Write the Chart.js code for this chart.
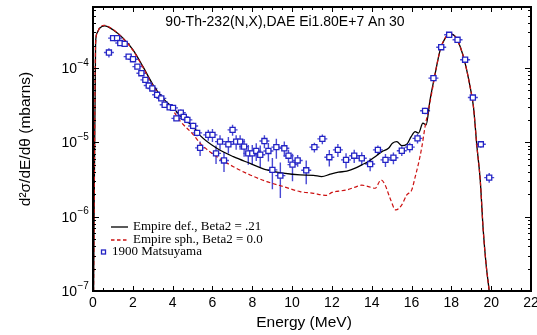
<!DOCTYPE html>
<html>
<head>
<meta charset="utf-8">
<script src="https://cdn.jsdelivr.net/npm/chart.js@4.4.1/dist/chart.umd.min.js"></script>
<style>
  html, body { margin: 0; padding: 0; background: #fff; }
  #wrap { width: 537px; height: 335px; }
</style>
</head>
<body>
<div id="wrap"><canvas id="chart"></canvas></div>
<script>
// tick labels
const xTickLabels = [0, 2, 4, 6, 8, 10, 12, 14, 16, 18, 20, 22];
const yDecades = [-7, -6, -5, -4];

// 1900 Matsuyama data (energy MeV, d2sigma, relative error)
const expE = [0.80, 1.01, 1.21, 1.37, 1.59, 1.79, 2.01, 2.23, 2.43, 2.63, 2.80, 2.98,
  3.22, 3.43, 3.60, 3.85, 4.02, 4.19, 4.41, 4.56, 4.74, 5.03, 5.23, 5.38, 5.79, 6.00,
  6.18, 6.38, 6.58, 6.80, 7.01, 7.19, 7.39, 7.59, 7.80, 8.00, 8.20, 8.40, 8.61, 8.81,
  9.01, 9.21, 9.41, 9.61, 9.82, 10.02, 10.28, 10.71, 11.12, 11.52, 11.87, 12.30, 12.71,
  13.12, 13.50, 13.92, 14.31, 14.69, 15.09, 15.51, 15.91, 16.30, 16.68, 17.10, 17.49,
  17.89, 18.31, 18.69, 19.08, 19.48, 19.90];
const expSigma = [1.61e-4, 2.52e-4, 2.52e-4, 2.16e-4, 2.11e-4, 1.42e-4, 1.31e-4, 1.04e-4,
  8.5e-5, 6.9e-5, 5.8e-5, 5.3e-5, 4.35e-5, 3.9e-5, 3.2e-5, 2.96e-5, 2.9e-5, 2.1e-5,
  2.5e-5, 2.2e-5, 2.0e-5, 1.66e-5, 1.34e-5, 8.4e-6, 1.26e-5, 1.26e-5, 7.1e-6, 1.02e-5,
  5.7e-6, 9.4e-6, 1.47e-5, 1.02e-5, 1.02e-5, 8.75e-6, 7.1e-6, 7.1e-6, 7.65e-6, 6.8e-6,
  1.04e-5, 7.65e-6, 4.25e-6, 8.6e-6, 3.56e-6, 8.3e-6, 6.6e-6, 5.0e-6, 5.7e-6, 4.2e-6,
  8.6e-6, 1.11e-5, 6.3e-6, 7.9e-6, 5.8e-6, 6.6e-6, 6.1e-6, 5.1e-6, 7.9e-6, 5.8e-6,
  6.2e-6, 7.7e-6, 8.6e-6, 1.13e-5, 2.65e-5, 7.3e-5, 1.9e-4, 2.79e-4, 2.39e-4, 1.29e-4,
  4.0e-5, 9.4e-6, 3.35e-6];
const expRelErr = [0.14, 0.05, 0.05, 0.05, 0.05, 0.05, 0.05, 0.05, 0.05, 0.05, 0.05, 0.05,
  0.06, 0.06, 0.06, 0.06, 0.07, 0.08, 0.1, 0.1, 0.1, 0.1, 0.1, 0.22, 0.17, 0.2,
  0.28, 0.22, 0.3, 0.25, 0.17, 0.22, 0.22, 0.27, 0.3, 0.3, 0.27, 0.33, 0.2, 0.28,
  0.45, 0.3, 0.5, 0.23, 0.2, 0.4, 0.18, 0.35, 0.15, 0.15, 0.25, 0.2, 0.23,
  0.2, 0.2, 0.2, 0.15, 0.2, 0.18, 0.15, 0.15, 0.15, 0.1, 0.06, 0.05,
  0.05, 0.05, 0.05, 0.06, 0.1, 0.15];

// Empire def., Beta2 = .21
const defE = [0.03, 0.13, 0.2, 0.33, 0.59, 1.0, 1.51, 2.01, 2.51, 3.02, 3.52, 4.02, 4.52,
  5.03, 5.4, 6.22, 7.05, 7.89, 8.73, 9.56, 10.4, 11.07, 11.49, 11.91, 12.33, 12.75, 13.17,
  13.5, 13.83, 14.17, 14.51, 14.84, 15.04, 15.26, 15.51, 15.76, 15.98, 16.18, 16.35, 16.57,
  16.73, 16.93, 17.19, 17.44, 17.69, 17.94, 18.19, 18.44, 18.69, 18.94, 19.11, 19.28, 19.45,
  19.6, 19.75, 19.9, 20.0];
const defSigma = [1.0e-7, 2.16e-4, 2.94e-4, 3.42e-4, 3.69e-4, 3.26e-4, 2.52e-4, 1.75e-4,
  1.04e-4, 5.9e-5, 3.9e-5, 2.9e-5, 2.1e-5, 1.63e-5, 1.22e-5, 8.3e-6, 6.4e-6, 5.2e-6,
  4.25e-6, 3.84e-6, 3.64e-6, 3.6e-6, 3.45e-6, 3.72e-6, 3.96e-6, 4.1e-6, 4.48e-6, 4.97e-6,
  5.5e-6, 6.4e-6, 7.5e-6, 8.3e-6, 9.7e-6, 1.02e-5, 9.0e-6, 9.4e-6, 1.19e-5, 1.39e-5,
  1.33e-5, 1.81e-5, 1.72e-5, 3.73e-5, 8.5e-5, 1.75e-4, 2.52e-4, 2.88e-4, 2.65e-4, 1.94e-4,
  1.16e-4, 5.6e-5, 3.0e-5, 9.0e-6, 3.1e-6, 6.6e-7, 2.2e-7, 1.0e-7, 5e-8];

// Empire sph., Beta2 = 0.0
const sphE = [0.03, 0.13, 0.2, 0.33, 0.55, 1.0, 1.51, 2.01, 2.51, 3.02, 3.52, 4.0, 4.4,
  5.0, 5.4, 6.22, 7.05, 7.89, 8.73, 9.56, 10.4, 11.07, 11.49, 11.74, 12.0, 12.33, 12.75,
  13.17, 13.5, 13.83, 14.17, 14.47, 14.67, 14.92, 15.21, 15.51, 15.76, 16.01, 16.18, 16.35,
  16.52, 16.68, 16.85, 17.05, 17.19, 17.44, 17.69, 17.94, 18.19, 18.44, 18.69, 18.94, 19.11,
  19.28, 19.45, 19.6, 19.75, 19.9, 20.0];
const sphSigma = [1.0e-7, 2.1e-4, 2.9e-4, 3.45e-4, 3.75e-4, 3.3e-4, 2.5e-4, 1.72e-4,
  1.02e-4, 5.7e-5, 3.7e-5, 2.7e-5, 1.9e-5, 1.3e-5, 9.6e-6, 6.4e-6, 4.7e-6, 3.64e-6,
  2.96e-6, 2.54e-6, 2.17e-6, 2.06e-6, 1.96e-6, 1.93e-6, 2.12e-6, 2.2e-6, 2.29e-6, 2.5e-6,
  2.65e-6, 2.54e-6, 2.41e-6, 3.12e-6, 2.68e-6, 1.77e-6, 1.23e-6, 1.44e-6, 1.96e-6, 2.29e-6,
  3.4e-6, 5.2e-6, 8.75e-6, 1.63e-5, 2.73e-5, 5.2e-5, 8.5e-5, 1.75e-4, 2.52e-4, 2.88e-4,
  2.65e-4, 1.94e-4, 1.16e-4, 5.6e-5, 3.0e-5, 9.0e-6, 3.1e-6, 6.6e-7, 2.2e-7, 1.0e-7, 5e-8];

const SANS = '"Liberation Sans", Arial, sans-serif';
const SERIF = '"Liberation Serif", "Times New Roman", serif';
const BLUE = '#2323c4';
const BLUE_BAR = '#4848d4';
const RED = '#cc1111';

function toXY(xs, ys) {
  return xs.map((x, i) => ({ x: x, y: ys[i] }));
}

const errorBars = {
  id: 'errorBars',
  beforeDatasetsDraw(chart) {
    const ctx = chart.ctx;
    const xs = chart.scales.x, ys = chart.scales.y;
    const a = chart.chartArea;
    ctx.save();
    ctx.beginPath();
    ctx.rect(a.left, a.top, a.right - a.left, a.bottom - a.top);
    ctx.clip();
    ctx.strokeStyle = BLUE_BAR;
    ctx.lineWidth = 1.4;
    for (let i = 0; i < expE.length; i++) {
      const px = xs.getPixelForValue(expE[i]);
      const py = ys.getPixelForValue(expSigma[i]);
      const top = ys.getPixelForValue(expSigma[i] * (1 + expRelErr[i]));
      const bot = ys.getPixelForValue(expSigma[i] * (1 - expRelErr[i]));
      ctx.beginPath();
      ctx.moveTo(px, top);
      ctx.lineTo(px, bot);
      ctx.moveTo(px - 5, py);
      ctx.lineTo(px + 5, py);
      ctx.stroke();
    }
    ctx.restore();
  }
};

const frame = {
  id: 'frame',
  afterDraw(chart) {
    const ctx = chart.ctx;
    const xs = chart.scales.x, ys = chart.scales.y;
    const a = chart.chartArea;
    ctx.save();
    ctx.strokeStyle = '#000';
    ctx.fillStyle = '#000';

    // inward ticks
    ctx.lineWidth = 1;
    ctx.beginPath();
    for (let v = 0; v <= 22.001; v += 0.5) {
      const px = Math.round(xs.getPixelForValue(v)) + 0.5;
      const len = (Math.abs(v / 2 - Math.round(v / 2)) < 1e-6) ? 5 : 3;
      ctx.moveTo(px, a.bottom); ctx.lineTo(px, a.bottom - len);
      ctx.moveTo(px, a.top); ctx.lineTo(px, a.top + len);
    }
    for (const d of yDecades) {
      for (let m = 1; m <= 9; m++) {
        const val = m * Math.pow(10, d);
        if (val > ys.max) break;
        const py = Math.round(ys.getPixelForValue(val)) + 0.5;
        const len = m === 1 ? 6 : 3;
        ctx.moveTo(a.left, py); ctx.lineTo(a.left + len, py);
        ctx.moveTo(a.right, py); ctx.lineTo(a.right - len, py);
      }
    }
    ctx.stroke();

    // box
    ctx.lineWidth = 2;
    ctx.strokeRect(a.left, a.top, a.right - a.left, a.bottom - a.top);

    // y tick labels 10^n
    for (const d of yDecades) {
      const py = ys.getPixelForValue(Math.pow(10, d));
      ctx.font = '14px ' + SANS;
      ctx.textAlign = 'right';
      ctx.textBaseline = 'middle';
      ctx.fillText('10', 77, py + 1);
      ctx.font = '10px ' + SANS;
      ctx.textAlign = 'left';
      ctx.fillText('\u2212' + Math.abs(d), 77.5, py - 5);
    }

    // axis titles
    ctx.font = '15.5px ' + SANS;
    ctx.textAlign = 'center';
    ctx.textBaseline = 'middle';
    ctx.fillText('Energy (MeV)', 304, 323);

    ctx.save();
    ctx.translate(26, 139);
    ctx.rotate(-Math.PI / 2);
    ctx.fillText('d\u00b2\u03c3/dE/d\u03b8 (mbarns)', 0, 0);
    ctx.restore();

    // reaction label
    ctx.font = '14px ' + SANS;
    ctx.textAlign = 'center';
    ctx.fillText('90-Th-232(N,X),DAE Ei1.80E+7 An 30', 285, 22);

    // legend
    ctx.font = '13px ' + SERIF;
    ctx.textAlign = 'left';
    ctx.lineWidth = 1.3;
    ctx.strokeStyle = '#000';
    ctx.beginPath(); ctx.moveTo(111, 227); ctx.lineTo(128, 227); ctx.stroke();
    ctx.fillText('Empire def., Beta2 = .21', 133, 227);
    ctx.strokeStyle = RED;
    ctx.setLineDash([3.5, 2.5]);
    ctx.beginPath(); ctx.moveTo(111, 240); ctx.lineTo(128, 240); ctx.stroke();
    ctx.setLineDash([]);
    ctx.fillText('Empire sph., Beta2 = 0.0', 133, 240);
    ctx.strokeStyle = BLUE;
    ctx.lineWidth = 1.3;
    ctx.strokeRect(101.5, 250, 4, 4);
    ctx.fillText('1900 Matsuyama', 112, 252);
    ctx.restore();
  }
};

const ctx = document.getElementById('chart').getContext('2d');
new Chart(ctx, {
  type: 'scatter',
  data: {
    datasets: [{
      label: '1900 Matsuyama',
      data: toXY(expE, expSigma),
      pointStyle: 'rect',
      pointRadius: 3.6,
      pointBorderWidth: 1.3,
      pointBorderColor: BLUE,
      pointBackgroundColor: '#fff',
      showLine: false,
      order: 0
    }, {
      label: 'Empire sph., Beta2 = 0.0',
      data: toXY(sphE, sphSigma),
      showLine: true,
      borderColor: RED,
      borderWidth: 1.2,
      borderDash: [4, 2.5],
      pointRadius: 0,
      cubicInterpolationMode: 'monotone',
      order: 1
    }, {
      label: 'Empire def., Beta2 = .21',
      data: toXY(defE, defSigma),
      showLine: true,
      borderColor: '#000',
      borderWidth: 1.3,
      pointRadius: 0,
      cubicInterpolationMode: 'monotone',
      order: 2
    }]
  },
  options: {
    responsive: true,
    maintainAspectRatio: false,
    animation: false,
    layout: { padding: { top: 7, right: 6, left: 0, bottom: 0 } },
    plugins: {
      legend: { display: false },
      tooltip: { enabled: false }
    },
    scales: {
      x: {
        type: 'linear',
        min: 0,
        max: 22,
        grid: { display: false },
        border: { display: false },
        ticks: {
          stepSize: 2,
          color: '#000',
          padding: -4,
          font: { family: SANS, size: 14 },
          callback: (v) => xTickLabels.includes(v) ? String(v) : ''
        },
        afterFit(scale) {
          scale.height = 44;
          scale.paddingLeft = 0;
          scale.paddingRight = 0;
        }
      },
      y: {
        type: 'logarithmic',
        min: 1e-7,
        max: 6.6e-4,
        grid: { display: false },
        border: { display: false },
        ticks: { display: false },
        afterFit(scale) {
          scale.width = 93;
        }
      }
    }
  },
  plugins: [errorBars, frame]
});
</script>
</body>
</html>
